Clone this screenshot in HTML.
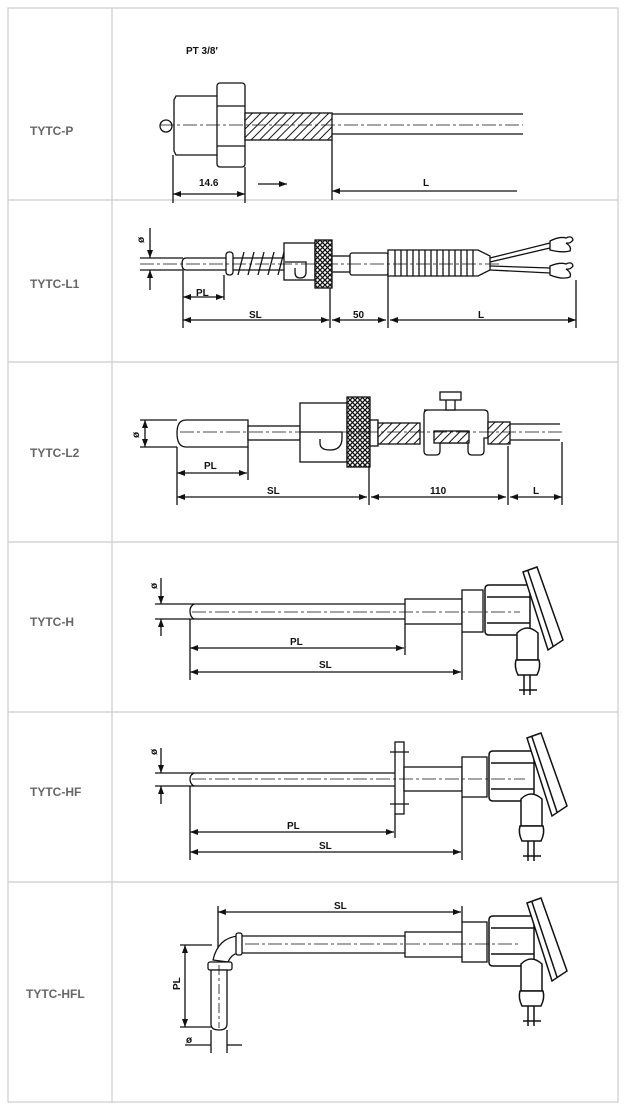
<!DOCTYPE html>
<html><head><meta charset="utf-8"><style>
html,body{margin:0;padding:0;background:#fff;}
svg{display:block;}
.lbl{font-family:"Liberation Sans",sans-serif;font-weight:bold;font-size:12px;fill:#666;}
.t{font-family:"Liberation Sans",sans-serif;font-weight:bold;font-size:10px;fill:#111;}
</style></head><body>
<svg width="628" height="1110" viewBox="0 0 628 1110" xmlns="http://www.w3.org/2000/svg">
<defs>
<pattern id="hat" width="6" height="6" patternUnits="userSpaceOnUse" patternTransform="rotate(45)">
<rect width="6" height="6" fill="#fff"/><line x1="0" y1="0" x2="0" y2="6" stroke="#111" stroke-width="2"/></pattern>
<pattern id="knurl" width="5" height="5" patternUnits="userSpaceOnUse">
<rect width="5" height="5" fill="#fff"/><path d="M0 0L5 5M5 0L0 5" stroke="#111" stroke-width="1.3"/></pattern>
<marker id="a" markerWidth="8" markerHeight="6" refX="8" refY="3" orient="auto-start-reverse" markerUnits="userSpaceOnUse">
<path d="M0 0L8 3L0 6z" fill="#111"/></marker>
<g id="head" fill="#fff" stroke="#111" stroke-width="1.5">
<path d="M6 -26H47V24H6Q2 24 2 20V-22Q2 -26 6 -26Z"/>
<line x1="4" y1="-14" x2="47" y2="-14"/><line x1="4" y1="12" x2="47" y2="12"/>
<path d="M34 22Q44 12 55 22V49H34Z"/>
<path d="M33 49H56Q58 56 54 64H35Q31 56 33 49Z"/>
<line x1="41" y1="64" x2="41" y2="84"/><line x1="47" y1="64" x2="47" y2="84"/>
<line x1="36" y1="79" x2="54" y2="79"/>
<path d="M40 -39L54 -44L80 29L65 39Z"/>
<line x1="45" y1="-40" x2="70" y2="35"/>
</g>
</defs>
<g stroke="#ccc" stroke-width="1.2" fill="none">
<rect x="8" y="8" width="610" height="1094"/>
<line x1="112" y1="8" x2="112" y2="1102"/>
<line x1="8" y1="200" x2="618" y2="200"/>
<line x1="8" y1="362" x2="618" y2="362"/>
<line x1="8" y1="542" x2="618" y2="542"/>
<line x1="8" y1="712" x2="618" y2="712"/>
<line x1="8" y1="882" x2="618" y2="882"/>
</g>
<text class="lbl" x="30" y="135">TYTC-P</text>
<text class="lbl" x="30" y="288">TYTC-L1</text>
<text class="lbl" x="30" y="457">TYTC-L2</text>
<text class="lbl" x="30" y="626">TYTC-H</text>
<text class="lbl" x="30" y="796">TYTC-HF</text>
<text class="lbl" x="26" y="998">TYTC-HFL</text>

<g stroke="#111" stroke-width="1.3" fill="#fff">
<!-- Row 1 -->
<path d="M174 100L176 96H218V155H176L174 151Z"/>
<circle cx="166" cy="126" r="6"/>
<rect x="217" y="83" width="28" height="84" rx="3"/>
<line x1="217" y1="106" x2="245" y2="106"/><line x1="217" y1="146" x2="245" y2="146"/>
<rect x="245" y="113" width="87" height="27" fill="url(#hat)"/>
<line x1="332" y1="114" x2="523" y2="114"/><line x1="332" y1="134" x2="523" y2="134"/>
<line x1="160" y1="125" x2="523" y2="125" stroke-dasharray="14 3 3 3" stroke-width="0.8"/>
<line x1="173" y1="155" x2="173" y2="203"/><line x1="245" y1="167" x2="245" y2="203"/>
<line x1="332" y1="140" x2="332" y2="200"/>
<line x1="173" y1="194" x2="245" y2="194" marker-start="url(#a)" marker-end="url(#a)"/>
<line x1="258" y1="184" x2="287" y2="184" marker-end="url(#a)"/>
<line x1="332" y1="191" x2="517" y2="191" marker-start="url(#a)"/>

<!-- Row 2 -->
<line x1="140" y1="258" x2="183" y2="258"/><line x1="140" y1="270" x2="183" y2="270"/>
<line x1="150" y1="228" x2="150" y2="258" marker-end="url(#a)"/><line x1="150" y1="290" x2="150" y2="270" marker-end="url(#a)"/>
<path d="M226 258H186Q182 258 182 264Q182 270 186 270H226"/>
<rect x="226" y="252" width="7" height="23" rx="3"/>
<path d="M233 258H285M233 270H285" />
<path d="M238 275L244 252M248 275L254 252M258 275L264 252M268 275L274 252M278 275L284 252" fill="none"/>
<rect x="284" y="243" width="31" height="37"/>
<path d="M285 262H306V272Q306 278 300 278Q295 278 295 272V268" fill="none"/>
<rect x="315" y="240" width="17" height="48" fill="url(#knurl)"/>
<rect x="332" y="256" width="18" height="16"/>
<rect x="350" y="253" width="38" height="22" rx="2"/>
<path d="M388 250H478L490 256V270L478 276H388Z"/>
<path d="M395 250V276M401 250V276M407 250V276M413 250V276M419 250V276M425 250V276M431 250V276M437 250V276M443 250V276M449 250V276M455 250V276M461 250V276M467 250V276M473 250V276" fill="none"/>
<path d="M490 258L550 243M490 262L550 248M490 266L550 268M490 270L550 273" fill="none"/>
<path d="M550 241Q560 236 566 238Q572 235 573 240Q570 244 566 243Q572 247 570 251Q562 253 550 250Z"/>
<path d="M550 266Q560 262 566 264Q572 261 573 266Q570 270 566 269Q572 273 570 277Q562 280 550 275Z"/>
<line x1="140" y1="264" x2="500" y2="264" stroke-dasharray="14 3 3 3" stroke-width="0.8" fill="none"/>
<line x1="183" y1="270" x2="183" y2="328"/><line x1="224" y1="275" x2="224" y2="300"/>
<line x1="330" y1="288" x2="330" y2="328"/><line x1="388" y1="276" x2="388" y2="328"/>
<line x1="576" y1="280" x2="576" y2="328"/>
<line x1="183" y1="297" x2="224" y2="297" marker-start="url(#a)" marker-end="url(#a)"/>
<line x1="183" y1="320" x2="329" y2="320" marker-start="url(#a)" marker-end="url(#a)"/>
<line x1="332" y1="320" x2="386" y2="320" marker-start="url(#a)" marker-end="url(#a)"/>
<line x1="390" y1="320" x2="576" y2="320" marker-start="url(#a)" marker-end="url(#a)"/>

<!-- Row 3 -->
<path d="M248 420H186Q177 420 177 433Q177 447 186 447H248Z"/>
<rect x="248" y="426" width="52" height="14"/>
<rect x="300" y="403" width="47" height="59"/>
<path d="M300 432H342V438Q342 450 330 450Q320 450 320 443V439" fill="none"/>
<rect x="347" y="397" width="23" height="70" fill="url(#knurl)"/>
<rect x="370" y="420" width="8" height="26"/>
<rect x="378" y="423" width="42" height="21" fill="url(#hat)"/>
<path d="M424 410H484Q488 410 488 414V438H484V451Q484 455 480 455H472Q468 455 468 451V443H440V451Q440 455 436 455H428Q424 455 424 451V414Q424 410 428 410Z"/>
<rect x="434" y="431" width="35" height="12" fill="url(#hat)"/>
<rect x="446" y="398" width="9" height="12"/>
<rect x="440" y="392" width="21" height="8"/>
<rect x="488" y="422" width="22" height="22" fill="url(#hat)"/>
<line x1="510" y1="424" x2="560" y2="424"/><line x1="510" y1="440" x2="560" y2="440"/>
<line x1="180" y1="432" x2="565" y2="432" stroke-dasharray="14 3 3 3" stroke-width="0.8" fill="none"/>
<line x1="140" y1="420" x2="177" y2="420"/><line x1="140" y1="447" x2="177" y2="447"/>
<line x1="145" y1="420" x2="145" y2="447" marker-start="url(#a)" marker-end="url(#a)"/>
<line x1="177" y1="447" x2="177" y2="505"/><line x1="248" y1="447" x2="248" y2="480"/>
<line x1="369" y1="467" x2="369" y2="505"/><line x1="508" y1="446" x2="508" y2="505"/>
<line x1="562" y1="442" x2="562" y2="505"/>
<line x1="177" y1="473" x2="247" y2="473" marker-start="url(#a)" marker-end="url(#a)"/>
<line x1="177" y1="497" x2="367" y2="497" marker-start="url(#a)" marker-end="url(#a)"/>
<line x1="371" y1="497" x2="506" y2="497" marker-start="url(#a)" marker-end="url(#a)"/>
<line x1="510" y1="497" x2="562" y2="497" marker-start="url(#a)" marker-end="url(#a)"/>

<!-- Row 4 -->
<line x1="155" y1="604" x2="405" y2="604"/><line x1="155" y1="619" x2="405" y2="619"/>
<path d="M194 604Q190 606 190 611Q190 617 194 619" fill="none"/>
<line x1="161" y1="578" x2="161" y2="604" marker-end="url(#a)"/><line x1="161" y1="636" x2="161" y2="619" marker-end="url(#a)"/>
<rect x="405" y="599" width="57" height="25"/>
<rect x="462" y="590" width="21" height="42"/>
<use href="#head" x="483" y="611"/>
<line x1="192" y1="612" x2="520" y2="612" stroke-dasharray="14 3 3 3" stroke-width="0.8" fill="none"/>
<line x1="190" y1="619" x2="190" y2="680"/><line x1="405" y1="624" x2="405" y2="655"/>
<line x1="462" y1="632" x2="462" y2="680"/>
<line x1="190" y1="648" x2="404" y2="648" marker-start="url(#a)" marker-end="url(#a)"/>
<line x1="190" y1="672" x2="461" y2="672" marker-start="url(#a)" marker-end="url(#a)"/>

<!-- Row 5 -->
<line x1="155" y1="773" x2="395" y2="773"/><line x1="155" y1="786" x2="395" y2="786"/>
<path d="M194 773Q190 775 190 779Q190 784 194 786" fill="none"/>
<line x1="161" y1="748" x2="161" y2="773" marker-end="url(#a)"/><line x1="161" y1="804" x2="161" y2="786" marker-end="url(#a)"/>
<rect x="395" y="742" width="9" height="72"/>
<line x1="390" y1="752" x2="409" y2="752"/><line x1="390" y1="804" x2="409" y2="804"/>
<rect x="404" y="767" width="58" height="24"/>
<rect x="462" y="757" width="25" height="40"/>
<line x1="462" y1="797" x2="462" y2="860"/>
<use href="#head" x="487" y="777"/>
<line x1="192" y1="779" x2="525" y2="779" stroke-dasharray="14 3 3 3" stroke-width="0.8" fill="none"/>
<line x1="190" y1="786" x2="190" y2="860"/><line x1="395" y1="814" x2="395" y2="838"/>
<line x1="190" y1="832" x2="394" y2="832" marker-start="url(#a)" marker-end="url(#a)"/>
<line x1="190" y1="852" x2="461" y2="852" marker-start="url(#a)" marker-end="url(#a)"/>

<!-- Row 6 -->
<line x1="218" y1="906" x2="218" y2="950"/><line x1="462" y1="906" x2="462" y2="922"/>
<line x1="218" y1="912" x2="461" y2="912" marker-start="url(#a)" marker-end="url(#a)"/>
<path d="M242 936H405M242 953H405" fill="none"/>
<rect x="405" y="932" width="58" height="25"/>
<rect x="462" y="922" width="25" height="40"/>
<use href="#head" x="487" y="942"/>
<path d="M238 936Q218 938 213 960L228 962Q232 953 240 953Z"/>
<rect x="236" y="933" width="6" height="22" rx="2"/>
<rect x="208" y="962" width="24" height="8" rx="2"/>
<path d="M211 970V1024Q211 1030 219 1030Q227 1030 227 1024V970Z"/>
<line x1="219" y1="965" x2="219" y2="1028" stroke-dasharray="10 3 3 3" stroke-width="0.8" fill="none"/>
<line x1="245" y1="944" x2="520" y2="944" stroke-dasharray="14 3 3 3" stroke-width="0.8" fill="none"/>
<line x1="180" y1="945" x2="212" y2="945"/><line x1="180" y1="1027" x2="211" y2="1027"/>
<line x1="185" y1="945" x2="185" y2="1027" marker-start="url(#a)" marker-end="url(#a)"/>
<line x1="211" y1="1030" x2="211" y2="1053"/><line x1="227" y1="1030" x2="227" y2="1053"/>
<line x1="185" y1="1045" x2="211" y2="1045"/><line x1="227" y1="1045" x2="242" y2="1045"/>
</g>
<g class="t">
<text x="186" y="54">PT 3/8′</text>
<text x="199" y="186">14.6</text>
<text x="423" y="186">L</text>
<text x="137" y="242" transform="rotate(-90 141 239)">ø</text>
<text x="196" y="296">PL</text>
<text x="249" y="318">SL</text>
<text x="353" y="318">50</text>
<text x="478" y="318">L</text>
<text x="132" y="437" transform="rotate(-90 136 434)">ø</text>
<text x="204" y="469">PL</text>
<text x="267" y="494">SL</text>
<text x="430" y="494">110</text>
<text x="533" y="494">L</text>
<text x="150" y="588" transform="rotate(-90 154 585)">ø</text>
<text x="290" y="645">PL</text>
<text x="319" y="668">SL</text>
<text x="150" y="754" transform="rotate(-90 154 751)">ø</text>
<text x="287" y="829">PL</text>
<text x="319" y="849">SL</text>
<text x="334" y="909">SL</text>
<text x="172" y="990" transform="rotate(-90 176 986)">PL</text>
<text x="186" y="1043">ø</text>
</g>
</svg>
</body></html>
